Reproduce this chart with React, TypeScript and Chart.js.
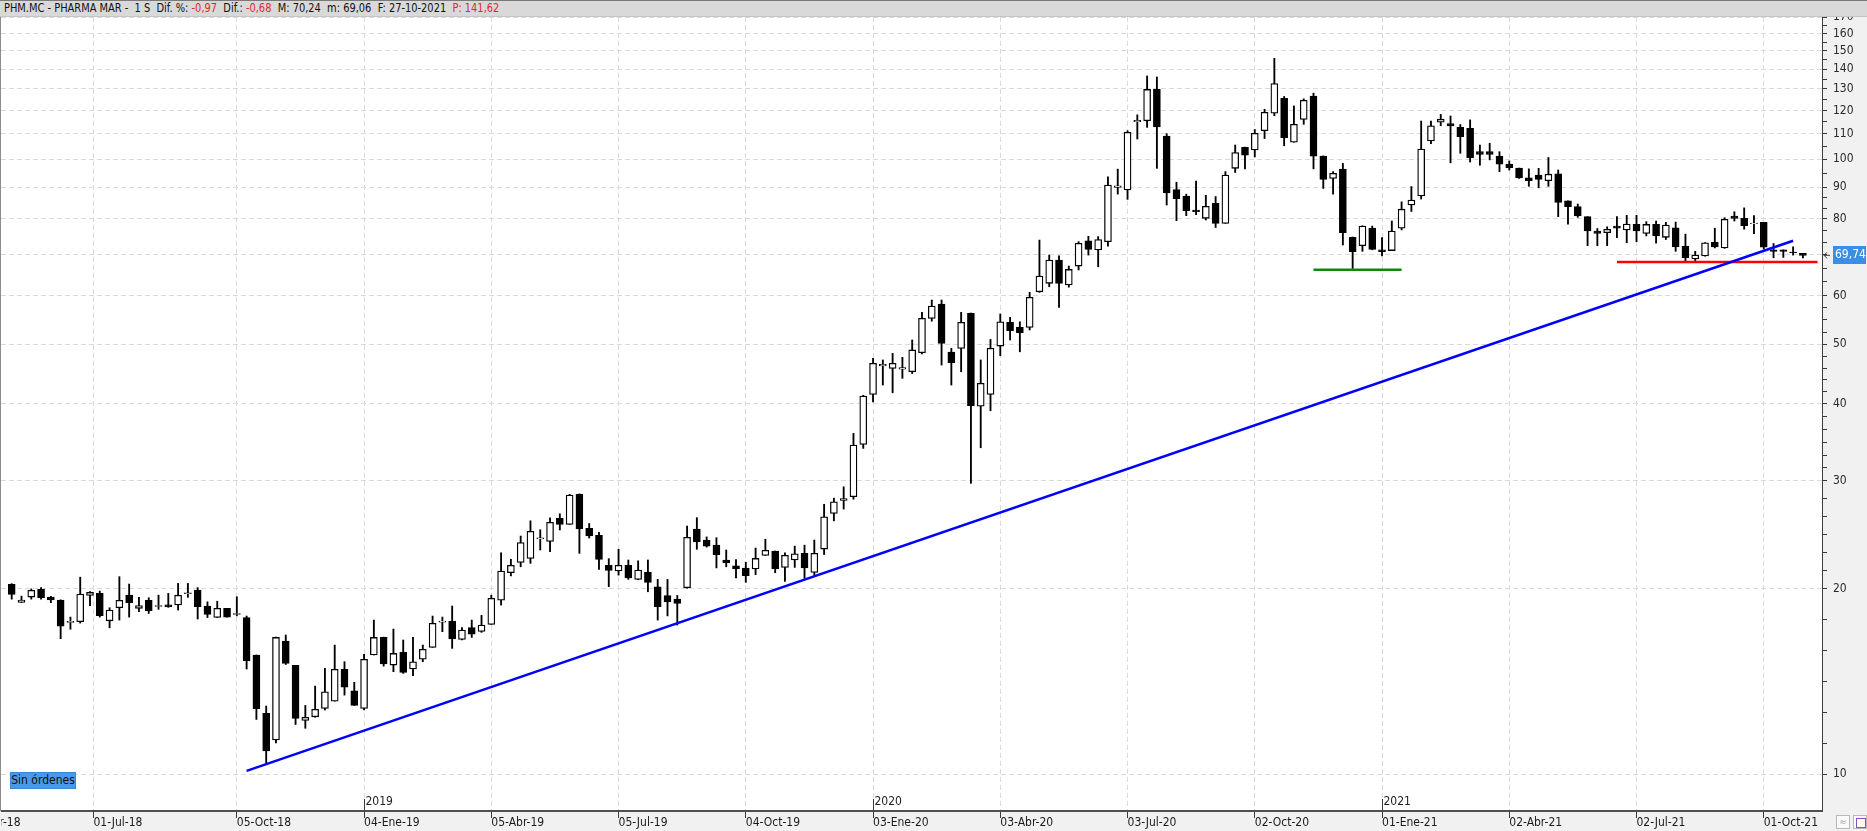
import React, { useEffect, useRef } from 'react';
import { Chart, registerables } from 'chart.js';

Chart.register(...registerables);

const FONT = '"Liberation Sans Narrow", "DejaVu Sans Condensed", "Liberation Sans", Arial, sans-serif';

// Weekly candles PHM.MC (week index 0 = end of April 2018)
const openPrices = [
  20.35, 19.02, 19.4, 19.97, 19.4, 19.19, 17.65, 17.69, 19.52, 19.67,
  17.75, 18.64, 19.54, 18.6, 19.17, 18.73, 18.85, 18.83, 19.65, 19.92,
  18.76, 17.97, 18.6, 18.18, 17.97, 15.62, 12.55, 11.36, 16.45, 15.02,
  12.22, 12.39, 12.79, 13.14, 14.8, 13.66, 12.79, 15.62, 16.68, 15.04,
  15.77, 14.82, 15.38, 16.07, 17.66, 17.74, 16.55, 17.3, 17.06, 17.51,
  19.17, 21.25, 22.09, 22.42, 24.12, 23.89, 26.05, 25.47, 28.5, 25.1,
  24.44, 21.85, 21.4, 21.85, 20.73, 21.3, 20.15, 19.5, 19.25, 20.09,
  25.03, 24.02, 23.56, 22.29, 21.81, 21.62, 21.55, 22.68, 23.05, 21.68,
  22.29, 22.85, 21.28, 23.22, 26.54, 27.85, 28.24, 34.36, 41.44, 46.1,
  45.67, 45.55, 45.1, 48.42, 55.08, 58.1, 48.55, 49.23, 56.13, 39.65,
  41.44, 49.65, 54.27, 53.24, 53.24, 60.83, 62.8, 68.5, 62.4, 66.99,
  73.65, 71.17, 73.37, 89.9, 89.09, 115.0, 115.4, 129.8, 109.0, 89.2,
  87.1, 82.6, 80.1, 84.7, 78.6, 96.6, 104.5, 103.5, 111.2, 118.7,
  125.5, 106.5, 116.0, 126.6, 101.1, 93.0, 96.3, 74.6, 72.3, 77.2,
  71.2, 71.0, 77.2, 84.2, 87.1, 107.0, 114.8, 114.2, 112.6, 112.2,
  102.8, 102.8, 101.1, 98.1, 96.7, 93.2, 94.2, 92.2, 94.6, 85.5,
  83.7, 80.6, 76.4, 75.9, 77.8, 76.7, 78.3, 75.7, 78.3, 74.6,
  77.3, 72.2, 68.8, 69.6, 73.2, 71.7, 80.8, 80.1, 78.5, 78.9,
  71.2, 71.2, 70.6, 70.24,
];
const highPrices = [
  20.4, 19.47, 20.0, 20.1, 19.45, 19.2, 18.0, 20.9, 19.8, 19.84,
  18.64, 20.94, 20.37, 19.38, 19.35, 19.54, 19.67, 20.42, 20.42, 20.1,
  19.06, 19.1, 18.6, 19.42, 18.07, 15.62, 12.9, 16.7, 16.83, 15.02,
  12.93, 13.9, 14.86, 16.21, 15.23, 14.1, 15.66, 17.8, 16.7, 17.21,
  16.52, 16.68, 16.21, 18.07, 18.0, 18.76, 17.3, 17.8, 18.12, 19.54,
  22.9, 22.35, 24.38, 25.81, 24.96, 26.1, 26.5, 28.5, 28.55, 25.55,
  24.73, 22.4, 23.2, 22.29, 22.22, 22.29, 20.73, 20.73, 19.52, 25.31,
  26.12, 24.3, 24.23, 23.14, 22.32, 22.1, 23.31, 24.09, 23.05, 22.9,
  23.48, 23.56, 24.02, 27.46, 28.1, 29.32, 35.81, 41.3, 47.42, 47.14,
  48.31, 47.6, 50.8, 56.33, 59.0, 59.0, 49.25, 56.33, 56.2, 47.14,
  50.9, 55.98, 55.29, 54.38, 60.72, 73.84, 69.8, 69.6, 67.0, 73.4,
  74.9, 74.8, 93.6, 96.3, 111.2, 118.0, 136.5, 136.0, 110.0, 91.7,
  87.7, 92.1, 87.3, 86.9, 95.4, 105.4, 104.6, 111.7, 120.5, 145.8,
  126.4, 122.0, 125.3, 128.0, 101.2, 95.4, 98.4, 74.7, 77.9, 77.8,
  74.5, 79.3, 85.2, 90.2, 115.3, 115.3, 118.2, 117.5, 113.8, 115.8,
  105.4, 106.1, 102.8, 99.3, 96.7, 96.4, 96.6, 100.6, 96.0, 85.5,
  84.5, 80.6, 77.1, 77.6, 80.6, 81.0, 81.0, 79.1, 79.3, 78.9,
  79.0, 75.5, 70.8, 73.15, 77.2, 80.3, 82.1, 83.3, 80.9, 78.9,
  72.9, 71.2, 72.0, 70.24,
];
const lowPrices = [
  19.25, 19.02, 19.25, 19.25, 19.0, 16.6, 17.2, 17.6, 18.78, 18.0,
  17.29, 17.8, 18.0, 18.36, 18.25, 18.53, 18.67, 18.48, 19.38, 17.87,
  17.97, 17.97, 18.0, 18.08, 14.82, 12.27, 10.38, 11.24, 15.07, 12.04,
  11.87, 12.37, 12.71, 13.14, 13.44, 12.93, 12.71, 15.62, 14.98, 14.67,
  14.58, 14.45, 15.23, 16.07, 17.04, 16.01, 16.52, 16.68, 17.0, 17.51,
  18.83, 21.0, 21.73, 22.01, 23.14, 23.0, 24.94, 25.47, 22.85, 24.2,
  21.52, 20.17, 21.06, 20.73, 20.7, 19.79, 17.8, 18.08, 17.47, 20.05,
  23.2, 23.39, 21.64, 21.73, 20.85, 20.5, 21.1, 22.68, 21.25, 20.58,
  21.68, 20.81, 21.06, 22.75, 25.81, 26.97, 27.99, 33.85, 40.3, 42.91,
  41.69, 44.0, 44.8, 48.2, 54.5, 46.24, 42.91, 45.1, 29.7, 33.93,
  38.97, 47.89, 50.8, 48.6, 52.74, 60.72, 62.0, 57.4, 61.9, 66.03,
  69.8, 66.8, 72.2, 87.7, 86.0, 107.8, 112.6, 96.6, 84.2, 79.4,
  80.9, 81.2, 79.6, 77.4, 78.6, 95.1, 96.4, 100.8, 108.0, 117.6,
  105.1, 106.5, 113.9, 96.4, 89.6, 87.7, 72.5, 66.4, 70.8, 71.2,
  69.6, 71.0, 76.7, 82.2, 86.1, 105.9, 113.3, 98.6, 102.2, 98.9,
  97.7, 99.7, 95.4, 96.0, 93.0, 90.3, 89.8, 90.3, 80.6, 78.4,
  80.4, 72.3, 72.3, 72.3, 74.5, 73.1, 73.4, 75.0, 73.0, 74.0,
  70.8, 68.3, 68.3, 69.5, 71.7, 71.6, 79.3, 76.9, 75.6, 71.4,
  69.1, 69.2, 69.8, 69.06,
];
const closePrices = [
  19.6, 19.19, 19.9, 19.36, 19.2, 17.4, 17.72, 19.62, 19.74, 18.09,
  18.48, 19.17, 18.99, 18.79, 18.43, 18.8, 18.7, 19.54, 19.71, 18.71,
  18.18, 18.6, 18.0, 18.24, 15.29, 12.77, 10.91, 16.68, 15.14, 12.32,
  12.37, 12.74, 13.61, 14.8, 13.84, 12.93, 15.37, 16.68, 15.1, 15.71,
  14.63, 15.23, 15.95, 17.58, 17.73, 16.58, 17.15, 16.88, 17.47, 19.31,
  21.39, 21.85, 23.8, 24.81, 24.22, 25.66, 25.47, 28.42, 25.03, 24.4,
  22.34, 21.44, 21.85, 20.85, 21.47, 20.5, 18.71, 19.06, 18.95, 24.26,
  23.87, 23.48, 22.73, 22.06, 21.56, 21.01, 22.42, 23.11, 21.55, 22.68,
  22.81, 21.64, 22.85, 26.2, 27.72, 28.06, 34.28, 41.17, 46.54, 46.35,
  46.54, 45.8, 48.94, 55.08, 57.68, 50.15, 46.66, 54.27, 39.71, 43.18,
  49.25, 54.38, 52.59, 52.2, 59.6, 64.53, 68.5, 62.8, 66.15, 72.93,
  71.32, 74.0, 90.73, 90.5, 110.5, 115.6, 129.8, 112.8, 88.1, 86.2,
  82.4, 82.1, 83.8, 78.6, 94.2, 102.5, 101.5, 110.1, 119.1, 132.7,
  108.3, 113.9, 124.6, 101.1, 92.7, 94.8, 75.9, 70.7, 77.8, 71.3,
  70.7, 76.4, 82.9, 85.8, 103.8, 113.3, 116.1, 113.2, 108.7, 100.5,
  101.8, 101.8, 98.1, 96.8, 93.2, 92.2, 92.7, 94.5, 85.0, 83.7,
  80.8, 76.4, 75.7, 76.9, 77.2, 78.4, 76.4, 78.3, 75.0, 78.1,
  72.0, 69.1, 69.8, 73.1, 72.0, 79.8, 80.1, 77.9, 78.7, 71.9,
  70.8, 70.8, 70.42, 69.74,
];

// x axis (week index) tick labels
const xTickPositions = [8.35, 23, 36, 49, 62, 75, 88, 101, 114, 127, 140, 153, 166, 179];
const xTickLabels = [
  '01-Jul-18', '05-Oct-18', '04-Ene-19', '05-Abr-19', '05-Jul-19', '04-Oct-19', '03-Ene-20',
  '03-Abr-20', '03-Jul-20', '02-Oct-20', '01-Ene-21', '02-Abr-21', '02-Jul-21', '01-Oct-21',
];
// label that sits just left of the visible range (only its tail shows)
const xClippedTickPosition = -4.5;
const xClippedTickLabel = '06-Abr-18';
const yearMarkPositions = [36, 88, 140];
const yearMarkLabels = ['2019', '2020', '2021'];

// y axis (log) labelled values
const yLabelValues = [10, 20, 30, 40, 50, 60, 70, 80, 90, 100, 110, 120, 130, 140, 150, 160, 170];
const yLabelTexts = ['10', '20', '30', '40', '50', '60', '', '80', '90', '100', '110', '120', '130', '140', '150', '160', '170'];
const yMinorCounts = [5, 5, 5, 4, 3, 2, 2, 2, 1, 1, 1, 1, 1, 1, 1, 1];

// drawn lines
const trendBlueX = [24.0, 182.0];
const trendBlueY = [10.12, 73.65];
const supportRedX = [164.0, 184.5];
const supportRedY = [68.05, 68.05];
const supportGreenX = [133.0, 142.0];
const supportGreenY = [66.1, 66.1];

const lastPrice = 69.74;
const lastPriceLabel = '69,74';

const X_MIN = -1.0932;
const X_MAX = 184.951;
const Y_MIN = 8.7088;
const Y_MAX = 170.22;

const GRID = '#dadada';

function buildYTicks(): number[] {
  const out: number[] = [];
  for (let k = 0; k < yLabelValues.length; k++) {
    out.push(yLabelValues[k]);
    if (k < yLabelValues.length - 1) {
      const a = yLabelValues[k];
      const b = yLabelValues[k + 1];
      const m = yMinorCounts[k];
      for (let j = 1; j <= m; j++) out.push(a * Math.pow(b / a, j / (m + 1)));
    }
  }
  return out;
}

function labelIndex(v: number): number {
  for (let k = 0; k < yLabelValues.length; k++) {
    if (Math.abs(yLabelValues[k] - v) < 1e-6) return k;
  }
  return -1;
}

const decorPlugin = {
  id: 'decor',
  beforeDraw(chart: any) {
    const { ctx, chartArea } = chart;
    ctx.save();
    ctx.fillStyle = '#ffffff';
    ctx.fillRect(chartArea.left, chartArea.top, chartArea.right - chartArea.left, chartArea.bottom - chartArea.top);
    ctx.restore();
  },
  afterDraw(chart: any) {
    const { ctx, chartArea } = chart;
    const xs = chart.scales.x;
    const ys = chart.scales.y;
    ctx.save();
    // year markers
    ctx.font = `12px ${FONT}`;
    ctx.fillStyle = '#1e1e1e';
    ctx.textAlign = 'left';
    ctx.textBaseline = 'middle';
    ctx.strokeStyle = '#3a3a3a';
    ctx.lineWidth = 1;
    yearMarkPositions.forEach((p, k) => {
      const x = Math.round(xs.getPixelForValue(p)) + 0.5;
      ctx.beginPath();
      ctx.moveTo(x, chartArea.bottom - 12);
      ctx.lineTo(x, chartArea.bottom);
      ctx.stroke();
      ctx.fillText(yearMarkLabels[k], x + 1, chartArea.bottom - 9);
    });
    // clipped label at the left edge of the time axis
    ctx.fillStyle = '#1a1a1a';
    ctx.fillText(xClippedTickLabel, xs.getPixelForValue(xClippedTickPosition), chartArea.bottom + 12);
    // last price box
    const y = ys.getPixelForValue(lastPrice);
    const bx = chartArea.right + 11;
    ctx.fillStyle = '#3a8ee6';
    ctx.fillRect(bx, Math.round(y - 9), 33, 18);
    ctx.fillStyle = '#ffffff';
    ctx.font = `12px ${FONT}`;
    ctx.fillText(lastPriceLabel, bx + 2, y);
    // small arrow
    ctx.strokeStyle = '#3a3a3a';
    ctx.beginPath();
    ctx.moveTo(chartArea.right + 2, y);
    ctx.lineTo(chartArea.right + 8, y);
    ctx.moveTo(chartArea.right + 5, y - 3);
    ctx.lineTo(chartArea.right + 2, y);
    ctx.lineTo(chartArea.right + 5, y + 3);
    ctx.stroke();
    ctx.restore();
  },
};

export default function App() {
  const ref = useRef<HTMLCanvasElement>(null);

  useEffect(() => {
    const canvas = ref.current;
    if (!canvas) return;
    const idx = closePrices.map((_, i) => i);
    const bodyData = idx.map((i) => ({ x: i, y: [openPrices[i], closePrices[i]] }));
    const wickData = idx.map((i) => ({ x: i, y: [lowPrices[i], highPrices[i]] }));
    const bodyColors = idx.map((i) => (closePrices[i] >= openPrices[i] ? '#ffffff' : '#000000'));
    const yTicks = buildYTicks();

    const chart = new Chart(canvas, {
      type: 'bar',
      data: {
        datasets: [
          {
            type: 'line',
            data: trendBlueX.map((x, k) => ({ x, y: trendBlueY[k] })),
            borderColor: '#0000ff',
            borderWidth: 2.5,
            pointRadius: 0,
            tension: 0,
            order: 0,
          } as any,
          {
            type: 'line',
            data: supportRedX.map((x, k) => ({ x, y: supportRedY[k] })),
            borderColor: '#ff0000',
            borderWidth: 2.5,
            pointRadius: 0,
            order: 0,
          } as any,
          {
            type: 'line',
            data: supportGreenX.map((x, k) => ({ x, y: supportGreenY[k] })),
            borderColor: '#0a8a0a',
            borderWidth: 2.5,
            pointRadius: 0,
            order: 0,
          } as any,
          {
            type: 'bar',
            data: bodyData,
            backgroundColor: bodyColors,
            borderColor: '#000000',
            borderWidth: 1.3,
            borderSkipped: false,
            barThickness: 7,
            grouped: false,
            order: 1,
          } as any,
          {
            type: 'bar',
            data: wickData,
            backgroundColor: '#000000',
            borderWidth: 0,
            barThickness: 1.2,
            grouped: false,
            order: 2,
          } as any,
        ],
      },
      options: {
        responsive: false,
        animation: false,
        devicePixelRatio: 1,
        events: [],
        layout: { padding: { top: 17, left: 0, right: 0, bottom: 0 } },
        plugins: { legend: { display: false }, tooltip: { enabled: false }, title: { display: false } },
        scales: {
          x: {
            type: 'linear',
            min: X_MIN,
            max: X_MAX,
            offset: false,
            grid: {
              offset: false,
              color: GRID,
              lineWidth: 1,
              tickColor: '#3a3a3a',
              tickLength: 7,
              tickWidth: 1,
            },
            border: { display: true, color: '#505050', width: 2, dash: [5, 3] },
            ticks: {
              autoSkip: false,
              maxRotation: 0,
              minRotation: 0,
              align: 'start',
              padding: -2,
              color: '#1a1a1a',
              font: { family: FONT, size: 12 },
              callback: (_v: any, i: number) => xTickLabels[i] ?? '',
            },
            afterBuildTicks: (s: any) => {
              s.ticks = xTickPositions.map((v) => ({ value: v }));
            },
            afterFit: (s: any) => {
              s.height = 20;
            },
          },
          y: {
            type: 'logarithmic',
            position: 'right',
            min: Y_MIN,
            max: Y_MAX,
            grid: {
              color: (c: any) => (c.tick && labelIndex(c.tick.value) >= 0 ? GRID : 'rgba(0,0,0,0)'),
              lineWidth: 1,
              tickColor: '#3a3a3a',
              tickLength: 5,
              tickWidth: 1,
            },
            border: { display: true, color: '#404040', width: 1, dash: [5, 3] },
            ticks: {
              autoSkip: false,
              padding: 6,
              color: '#2a2a2a',
              font: { family: FONT, size: 12 },
              callback: (v: any) => {
                const k = labelIndex(Number(v));
                return k >= 0 ? yLabelTexts[k] : '';
              },
            },
            afterBuildTicks: (s: any) => {
              s.ticks = yTicks.map((v) => ({ value: v }));
            },
            afterFit: (s: any) => {
              s.width = 45;
            },
          },
        },
      } as any,
      plugins: [decorPlugin],
    });
    return () => chart.destroy();
  }, []);

  const red = '#e0282c';
  return (
    <div
      style={{
        position: 'fixed',
        left: 0,
        top: 0,
        width: 1867,
        height: 831,
        background: '#f1f1f2',
        overflow: 'hidden',
        fontFamily: FONT,
      }}
    >
      <canvas
        ref={ref}
        width={1866}
        height={831}
        style={{ position: 'absolute', left: 1, top: 0, width: 1866, height: 831 }}
      />
      <div style={{ position: 'absolute', left: 0, top: 17, width: 1, height: 794, background: '#8c8c8c' }} />
      <div
        style={{
          position: 'absolute',
          left: 0,
          top: 0,
          width: 1867,
          height: 17,
          boxSizing: 'border-box',
          background: '#d9d9d9',
          borderTop: '1px solid #7a7a7a',
          borderBottom: '1px solid #c4c4c4',
          fontSize: 12,
          lineHeight: '15px',
          whiteSpace: 'pre',
          color: '#111',
        }}
      >
        <div style={{ position: 'absolute', left: 4, top: 0, transform: 'scaleX(0.913)', transformOrigin: 'left center' }}>
          <span>{'PHM.MC - PHARMA MAR -  1 S  Dif. %: '}</span>
          <span style={{ color: red }}>-0,97</span>
          <span>{'  Dif.: '}</span>
          <span style={{ color: red }}>-0,68</span>
          <span>{'  M: 70,24  m: 69,06  F: 27-10-2021  '}</span>
          <span style={{ color: red }}>P: 141,62</span>
        </div>
      </div>
      <div
        style={{
          position: 'absolute',
          left: 10,
          top: 772,
          width: 66,
          height: 17,
          boxSizing: 'border-box',
          background: '#4a98ea',
          border: '1px solid #3b86d6',
          fontSize: 12,
          lineHeight: '15px',
          textAlign: 'center',
          color: '#111',
        }}
      >
        Sin órdenes
      </div>
      <div
        style={{
          position: 'absolute',
          left: 1836,
          top: 815,
          width: 14,
          height: 14,
          boxSizing: 'border-box',
          border: '1px solid #b8b8b8',
          background: '#fafafa',
          color: '#aaa',
          fontSize: 10,
          lineHeight: '12px',
          textAlign: 'center',
        }}
      >
        ≈
      </div>
      <div
        style={{
          position: 'absolute',
          left: 1853,
          top: 815,
          width: 14,
          height: 14,
          boxSizing: 'border-box',
          border: '1px solid #b8b8b8',
          background: '#fafafa',
        }}
      >
        <div style={{ position: 'absolute', left: 2, top: 2, width: 8, height: 8, border: '1px solid #8a4fc8' }} />
      </div>
    </div>
  );
}
